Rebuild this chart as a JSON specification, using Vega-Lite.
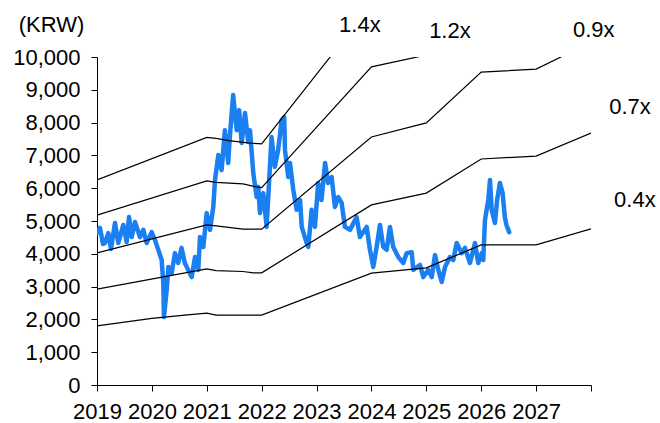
{
  "$schema": "https://vega.github.io/schema/vega-lite/v6.json",
  "width": 494,
  "height": 328,
  "autosize": {"type": "none"},
  "padding": {"left": 97, "top": 57, "right": 69, "bottom": 38},
  "background": "white",
  "config": {
    "view": {"stroke": null},
    "font": "Liberation Sans",
    "axis": {"labelFont": "Liberation Sans", "labelFontSize": 22, "labelColor": "#000", "domainColor": "#000", "tickColor": "#000", "grid": false, "tickSize": 6, "domainWidth": 1, "tickWidth": 1, "labelOverlap": false}
  },
  "datasets": {
    "price": [
      {"year": 2019.0, "value": 4630}, {"year": 2019.055, "value": 4790}, {"year": 2019.109, "value": 4300},
      {"year": 2019.146, "value": 4330}, {"year": 2019.206, "value": 4630}, {"year": 2019.255, "value": 4150},
      {"year": 2019.328, "value": 4940}, {"year": 2019.388, "value": 4330}, {"year": 2019.479, "value": 4880},
      {"year": 2019.541, "value": 4360}, {"year": 2019.583, "value": 5120}, {"year": 2019.632, "value": 4510},
      {"year": 2019.692, "value": 4970}, {"year": 2019.783, "value": 4510}, {"year": 2019.843, "value": 4730},
      {"year": 2019.905, "value": 4330}, {"year": 2019.996, "value": 4660}, {"year": 2020.056, "value": 4420},
      {"year": 2020.117, "value": 4120}, {"year": 2020.178, "value": 3810}, {"year": 2020.208, "value": 3110},
      {"year": 2020.22, "value": 2070}, {"year": 2020.27, "value": 2900}, {"year": 2020.30, "value": 3600},
      {"year": 2020.36, "value": 3410}, {"year": 2020.42, "value": 4020}, {"year": 2020.48, "value": 3720},
      {"year": 2020.54, "value": 4180}, {"year": 2020.60, "value": 3720}, {"year": 2020.66, "value": 3510},
      {"year": 2020.725, "value": 3290}, {"year": 2020.785, "value": 3900}, {"year": 2020.845, "value": 3510},
      {"year": 2020.876, "value": 4510}, {"year": 2020.937, "value": 4210}, {"year": 2020.998, "value": 5240},
      {"year": 2021.059, "value": 4730}, {"year": 2021.119, "value": 5430}, {"year": 2021.15, "value": 6250},
      {"year": 2021.21, "value": 7010}, {"year": 2021.27, "value": 6550}, {"year": 2021.33, "value": 7770},
      {"year": 2021.39, "value": 6770}, {"year": 2021.42, "value": 7560}, {"year": 2021.48, "value": 8840},
      {"year": 2021.545, "value": 7770}, {"year": 2021.59, "value": 8380}, {"year": 2021.636, "value": 7380},
      {"year": 2021.696, "value": 8290}, {"year": 2021.756, "value": 7410}, {"year": 2021.787, "value": 7770},
      {"year": 2021.847, "value": 6460}, {"year": 2021.909, "value": 5730}, {"year": 2021.939, "value": 6040},
      {"year": 2021.969, "value": 5240}, {"year": 2022.03, "value": 5850}, {"year": 2022.09, "value": 4820},
      {"year": 2022.18, "value": 7560}, {"year": 2022.24, "value": 6650}, {"year": 2022.30, "value": 7160},
      {"year": 2022.365, "value": 8080}, {"year": 2022.41, "value": 8170}, {"year": 2022.425, "value": 7160},
      {"year": 2022.485, "value": 6340}, {"year": 2022.516, "value": 6770}, {"year": 2022.576, "value": 5950},
      {"year": 2022.638, "value": 5340}, {"year": 2022.70, "value": 5640}, {"year": 2022.73, "value": 4820},
      {"year": 2022.82, "value": 4330}, {"year": 2022.85, "value": 4210}, {"year": 2022.91, "value": 5340},
      {"year": 2022.97, "value": 4820}, {"year": 2023.03, "value": 6160}, {"year": 2023.09, "value": 5640},
      {"year": 2023.155, "value": 6770}, {"year": 2023.21, "value": 6160}, {"year": 2023.275, "value": 6340},
      {"year": 2023.335, "value": 5430}, {"year": 2023.395, "value": 5730}, {"year": 2023.457, "value": 5550},
      {"year": 2023.517, "value": 4820}, {"year": 2023.609, "value": 4730}, {"year": 2023.73, "value": 5120},
      {"year": 2023.79, "value": 4510}, {"year": 2023.913, "value": 4820}, {"year": 2023.973, "value": 4120},
      {"year": 2024.033, "value": 3600}, {"year": 2024.095, "value": 4210}, {"year": 2024.155, "value": 4880},
      {"year": 2024.215, "value": 4210}, {"year": 2024.277, "value": 4120}, {"year": 2024.337, "value": 4820},
      {"year": 2024.397, "value": 4210}, {"year": 2024.49, "value": 3900}, {"year": 2024.58, "value": 3720},
      {"year": 2024.642, "value": 4020}, {"year": 2024.733, "value": 4050}, {"year": 2024.762, "value": 3510},
      {"year": 2024.884, "value": 3660}, {"year": 2024.945, "value": 3290}, {"year": 2025.036, "value": 3510},
      {"year": 2025.098, "value": 3290}, {"year": 2025.158, "value": 3960}, {"year": 2025.218, "value": 3510},
      {"year": 2025.28, "value": 3140}, {"year": 2025.34, "value": 3600}, {"year": 2025.43, "value": 3900},
      {"year": 2025.49, "value": 3810}, {"year": 2025.553, "value": 4330}, {"year": 2025.644, "value": 4020},
      {"year": 2025.704, "value": 4180}, {"year": 2025.795, "value": 3720}, {"year": 2025.886, "value": 4330},
      {"year": 2025.946, "value": 3720}, {"year": 2026.008, "value": 4020}, {"year": 2026.037, "value": 3810},
      {"year": 2026.068, "value": 5030}, {"year": 2026.128, "value": 5640}, {"year": 2026.16, "value": 6250},
      {"year": 2026.19, "value": 5340}, {"year": 2026.25, "value": 4940}, {"year": 2026.29, "value": 5640},
      {"year": 2026.34, "value": 6160}, {"year": 2026.39, "value": 5850}, {"year": 2026.43, "value": 5120},
      {"year": 2026.46, "value": 4880}, {"year": 2026.51, "value": 4660}
    ],
    "bands": [
      {"band": "0.4x", "year": 2019.0, "value": 1800}, {"band": "0.4x", "year": 2020.0, "value": 2030},
      {"band": "0.4x", "year": 2020.6, "value": 2130}, {"band": "0.4x", "year": 2021.0, "value": 2190},
      {"band": "0.4x", "year": 2021.17, "value": 2130}, {"band": "0.4x", "year": 2022.0, "value": 2130},
      {"band": "0.4x", "year": 2024.0, "value": 3410}, {"band": "0.4x", "year": 2025.0, "value": 3570},
      {"band": "0.4x", "year": 2026.0, "value": 4270}, {"band": "0.4x", "year": 2027.0, "value": 4270},
      {"band": "0.4x", "year": 2028.0, "value": 4760},
      {"band": "0.7x", "year": 2019.0, "value": 2920}, {"band": "0.7x", "year": 2021.0, "value": 3540},
      {"band": "0.7x", "year": 2021.17, "value": 3490}, {"band": "0.7x", "year": 2021.66, "value": 3460},
      {"band": "0.7x", "year": 2021.85, "value": 3420}, {"band": "0.7x", "year": 2022.0, "value": 3420},
      {"band": "0.7x", "year": 2024.0, "value": 5490}, {"band": "0.7x", "year": 2025.0, "value": 5850},
      {"band": "0.7x", "year": 2026.0, "value": 6890}, {"band": "0.7x", "year": 2027.0, "value": 6980},
      {"band": "0.7x", "year": 2028.0, "value": 7680},
      {"band": "0.9x", "year": 2019.0, "value": 4030}, {"band": "0.9x", "year": 2021.0, "value": 4880},
      {"band": "0.9x", "year": 2021.17, "value": 4850}, {"band": "0.9x", "year": 2021.66, "value": 4750},
      {"band": "0.9x", "year": 2022.0, "value": 4750}, {"band": "0.9x", "year": 2024.0, "value": 7560},
      {"band": "0.9x", "year": 2025.0, "value": 7990}, {"band": "0.9x", "year": 2026.0, "value": 9540},
      {"band": "0.9x", "year": 2027.0, "value": 9630}, {"band": "0.9x", "year": 2028.0, "value": 10450},
      {"band": "1.2x", "year": 2019.0, "value": 5180}, {"band": "1.2x", "year": 2021.0, "value": 6220},
      {"band": "1.2x", "year": 2021.17, "value": 6180}, {"band": "1.2x", "year": 2021.66, "value": 6130},
      {"band": "1.2x", "year": 2021.9, "value": 6040}, {"band": "1.2x", "year": 2022.0, "value": 6020},
      {"band": "1.2x", "year": 2024.0, "value": 9700}, {"band": "1.2x", "year": 2025.0, "value": 10060},
      {"band": "1.2x", "year": 2026.0, "value": 12000},
      {"band": "1.4x", "year": 2019.0, "value": 6250}, {"band": "1.4x", "year": 2021.0, "value": 7550},
      {"band": "1.4x", "year": 2021.17, "value": 7520}, {"band": "1.4x", "year": 2021.4, "value": 7450},
      {"band": "1.4x", "year": 2021.75, "value": 7380}, {"band": "1.4x", "year": 2022.0, "value": 7350},
      {"band": "1.4x", "year": 2024.0, "value": 11600}
    ],
    "labels": [
      {"label": "1.4x", "year": 2023.79, "value": 10980},
      {"label": "1.2x", "year": 2025.43, "value": 10780},
      {"label": "0.9x", "year": 2028.05, "value": 10820},
      {"label": "0.7x", "year": 2028.71, "value": 8490},
      {"label": "0.4x", "year": 2028.80, "value": 5640}
    ]
  },
  "encoding": {
    "x": {
      "field": "year", "type": "quantitative",
      "scale": {"domain": [2019, 2028], "nice": false, "zero": false},
      "axis": {
        "title": null,
        "values": [2019, 2020, 2021, 2022, 2023, 2024, 2025, 2026, 2027, 2028],
        "labelExpr": "datum.value < 2028 ? format(datum.value, 'd') : ''",
        "labelPadding": 10, "labelFlush": false, "labelOverlap": false
      }
    },
    "y": {
      "field": "value", "type": "quantitative",
      "scale": {"domain": [0, 10000], "nice": false},
      "axis": {
        "values": [0, 1000, 2000, 3000, 4000, 5000, 6000, 7000, 8000, 9000, 10000],
        "labelExpr": "format(datum.value, ',')",
        "labelOverlap": false, "labelPadding": 11, "labelFlush": false,
        "title": "(KRW)", "titleAngle": 0, "titleX": -46, "titleY": -33,
        "titleAlign": "center", "titleBaseline": "middle",
        "titleFont": "Liberation Sans", "titleFontSize": 22, "titleFontWeight": "normal", "titleColor": "#000"
      }
    }
  },
  "layer": [
    {
      "data": {"name": "price"},
      "mark": {"type": "line", "color": "#1a7ff0", "strokeWidth": 4.5, "strokeJoin": "round", "strokeCap": "round", "clip": true}
    },
    {
      "data": {"name": "bands"},
      "mark": {"type": "line", "color": "#000", "strokeWidth": 1.2, "clip": true},
      "encoding": {"detail": {"field": "band"}}
    },
    {
      "data": {"name": "labels"},
      "mark": {"type": "text", "font": "Liberation Sans", "fontSize": 22, "color": "#000", "align": "center", "baseline": "middle", "clip": false},
      "encoding": {"text": {"field": "label"}}
    }
  ]
}
